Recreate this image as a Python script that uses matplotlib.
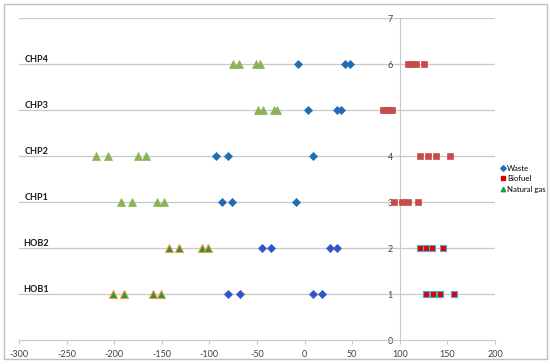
import matplotlib
matplotlib.use("Agg")
import matplotlib.pyplot as plt
from matplotlib.lines import Line2D
from matplotlib.patches import Rectangle

plt.rcParams['font.family'] = ['Lato', 'DejaVu Sans']

rows = ["HOB1", "HOB2", "CHP1", "CHP2", "CHP3", "CHP4"]
row_y = [1, 2, 3, 4, 5, 6]

waste = [
    [-80, -68, 9, 18.5],
    [-44.5, -35, 27, 34],
    [-86.5, -76, -9],
    [-93, -80, 9],
    [4, 34.5, 38.5],
    [-7, 42.5, 48],
]
biofuel = [
    [127, 135, 142, 157],
    [121, 128, 134, 145.5],
    [94, 102, 109, 119.5],
    [121, 130, 137.5, 152.5],
    [82, 86, 89, 92],
    [109, 113, 117, 125.5],
]
natural_gas = [
    [-201.5, -189.5, -159, -151],
    [-142, -132, -108, -101],
    [-192.5, -181.5, -155.5, -148],
    [-219.5, -206, -174.5, -166.5],
    [-48.5, -44, -32, -28.5],
    [-75.5, -68.5, -51, -46.5],
]
x_ticks = [-300, -250, -200, -150, -100, -50, 0, 50, 100, 150, 200]
y_ticks = [0, 1, 2, 3, 4, 5, 6, 7]

fig = plt.figure(figsize=(5.5, 3.64), dpi=100)
ax = fig.add_axes([19/550, 1-340/364, 476/550, 322/364])

fig.patches.append(Rectangle((4/550, 1-359/364), 543/550, 355/364,
                             transform=fig.transFigure, fill=False,
                             edgecolor='#BFBFBF', linewidth=1.0))

grid_c = '#C8C8C8'
for y in y_ticks[1:]:
    ax.axhline(y, color=grid_c, linewidth=0.9, zorder=1)

for i, (name, y) in enumerate(zip(rows, row_y)):
    hob = name.startswith("HOB")
    if hob:
        wkw = dict(marker='D', color='#1F5FC4', mec='#5B4FCF', ms=4.2, mew=0.6)
        bkw = dict(marker='s', color='#E00000', mec='#4BACC6', ms=5.0, mew=0.8)
        nkw = dict(marker='^', color='#1E9E3A', mec='#F79646', ms=5.2, mew=0.8)
    else:
        wkw = dict(marker='D', color='#1F6DB5', mec='#1F6DB5', ms=4.2, mew=0.5)
        bkw = dict(marker='s', color='#C84B4B', mec='#C84B4B', ms=5.0, mew=0.5)
        nkw = dict(marker='^', color='#8DB255', mec='#8DB255', ms=5.2, mew=0.5)
    ax.plot(waste[i], [y]*len(waste[i]), ls='none', zorder=3, **wkw)
    ax.plot(biofuel[i], [y]*len(biofuel[i]), ls='none', zorder=3, **bkw)
    ax.plot(natural_gas[i], [y]*len(natural_gas[i]), ls='none', zorder=3, **nkw)
    ax.text(-282, y + 0.1, name, ha='center', va='center', fontsize=6.5,
            fontweight='bold', color='#1a1a1a', zorder=4)

ax.set_xlim(-300, 200)
ax.set_ylim(0, 7)
ax.set_xticks(x_ticks)
ax.set_xticklabels([str(v) for v in x_ticks])
ax.set_yticks(y_ticks)
ax.set_yticklabels([str(v) for v in y_ticks])

for s in ['top', 'right']:
    ax.spines[s].set_visible(False)
ax.spines['left'].set_position(('data', 100))
ax.spines['left'].set_color(grid_c)
ax.spines['bottom'].set_color(grid_c)
ax.tick_params(axis='x', colors=grid_c, labelcolor='#404040', labelsize=6.5,
               length=3, direction='out', pad=4)
ax.tick_params(axis='y', colors=grid_c, labelcolor='#404040', labelsize=6.5,
               length=0, pad=5)
for lbl in ax.get_yticklabels():
    lbl.set_zorder(5)

handles = [
    Line2D([], [], ls='none', marker='D', color='#1F6DB5', ms=2.8),
    Line2D([], [], ls='none', marker='s', color='#E00000', ms=3.2),
    Line2D([], [], ls='none', marker='^', color='#1E9E3A', ms=3.2),
]
fig.legend(handles, ['Waste', 'Biofuel', 'Natural gas'],
           loc='upper left', bbox_to_anchor=(499/550, 1-163/364),
           frameon=False, fontsize=5.6, handlelength=0.5, handletextpad=0.3,
           labelspacing=0.45, borderpad=0.2, borderaxespad=0)

fig.savefig('out.png', dpi=100)
